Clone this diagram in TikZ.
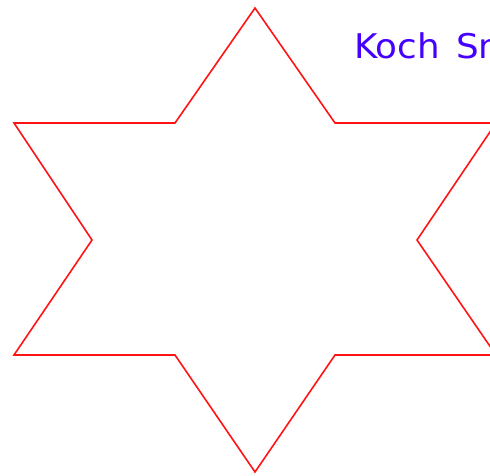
\documentclass[tikz,border=0pt]{standalone}
\usepackage{fontspec}
\newfontfamily\labelfont{DejaVu Sans}
\definecolor{starred}{RGB}{255,20,20}
\definecolor{titleblue}{RGB}{70,0,255}
\tikzset{
  starline/.style={draw=starred, line width=1.6pt, line join=miter},
  titletext/.style={text=titleblue, font=\labelfont\fontsize{34}{34}\selectfont, anchor=base west, inner sep=0pt, xscale=1.05}
}
\begin{document}
\begin{tikzpicture}[x=1pt,y=-1pt]
\useasboundingbox (0,0) rectangle (490,475);
\clip (0,0) rectangle (490,475);
\fill[white] (0,0) rectangle (490,475);
\draw[starline] (255,8) -- (335,123) -- (496,123) -- (417,240) -- (496,355) -- (335,355)
  -- (255,472) -- (175,355) -- (14,355) -- (92,240) -- (14,123) -- (175,123) -- cycle;
\node[titletext] (title) at (354,58) {Koch\hspace{0.45em}Snowflake};
\end{tikzpicture}
\end{document}
